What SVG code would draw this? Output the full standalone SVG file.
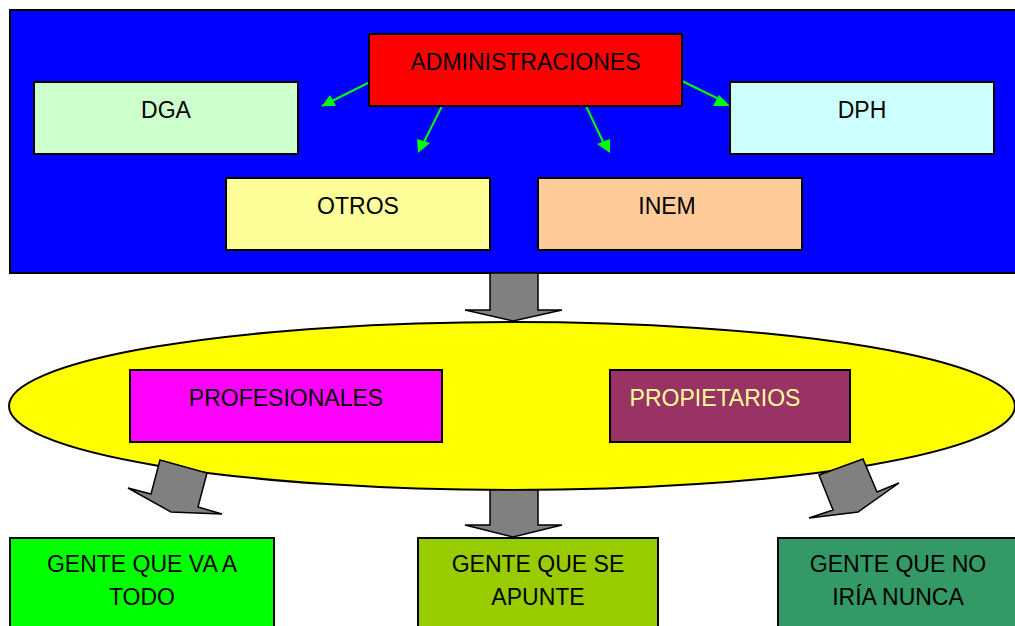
<svg xmlns="http://www.w3.org/2000/svg" width="1015" height="626" viewBox="0 0 1015 626">
<defs>
<style>
.box{stroke:#000;stroke-width:2}
.t{font-family:"Liberation Sans",Arial,sans-serif;font-size:23px;fill:#000;text-anchor:middle}
.big{fill:#808080;stroke:#000;stroke-width:1.5;stroke-linejoin:miter}
.g{stroke:#00FF00;stroke-width:2;fill:none;marker-end:url(#ah)}
</style>
<marker id="ah" viewBox="0 0 10 10" refX="9" refY="5" markerWidth="8" markerHeight="8" markerUnits="userSpaceOnUse" orient="auto">
<path d="M0,0 L10,5 L0,10 z" fill="#00FF00"/>
</marker>
</defs>
<rect width="1015" height="626" fill="#fff"/>
<g id="frame">
<rect x="10" y="10" width="1015" height="263" fill="#0000FF" stroke="#000" stroke-width="2"/>
</g>
<g id="ellipse">
<ellipse cx="512" cy="406" rx="503" ry="84" fill="#FFFF00" stroke="#000" stroke-width="2"/>
</g>
<g id="connectors">
<line class="g" x1="370" y1="82" x2="322" y2="106" style="marker-end:none"/>
<path d="M322,106 L330,95 L336,106 z" fill="#00FF00"/>
<line class="g" x1="442" y1="106" x2="420" y2="150" style="marker-end:none"/>
<path d="M418,153 L417,139 L430,143 z" fill="#00FF00"/>
<line class="g" x1="586" y1="106" x2="606" y2="148" style="marker-end:none"/>
<path d="M610,153 L597,144 L610,139 z" fill="#00FF00"/>
<line class="g" x1="682" y1="81" x2="725" y2="102" style="marker-end:none"/>
<path d="M730,106 L713,106 L719,95 z" fill="#00FF00"/>
<path class="big" d="M490,273 L538,273 L538,310 L562,310 L513,321 L465,310 L490,310 z"/>
<path class="big" d="M490,490 L538,490 L538,525 L562,525 L513,537 L465,525 L490,525 z"/>
<path class="big" d="M160,460 L207,473 L198,507 L222,514 L171,512 L128,488 L151,494 z"/>
<path class="big" d="M819,475 L863,459 L877,492 L899,483 L858,512 L809,518 L833,510 z"/>
</g>
<g id="administraciones">
<rect class="box" x="369" y="34" width="313" height="72" fill="#FF0000"/>
<text class="t" x="525.5" y="70">ADMINISTRACIONES</text>
</g>
<g id="dga">
<rect class="box" x="34" y="82" width="264" height="72" fill="#CCFFCC"/>
<text class="t" x="166" y="118">DGA</text>
</g>
<g id="dph">
<rect class="box" x="730" y="82" width="264" height="72" fill="#CCFFFF"/>
<text class="t" x="862" y="118">DPH</text>
</g>
<g id="otros">
<rect class="box" x="226" y="178" width="264" height="72" fill="#FFFF99"/>
<text class="t" x="358" y="214">OTROS</text>
</g>
<g id="inem">
<rect class="box" x="538" y="178" width="264" height="72" fill="#FFCC99"/>
<text class="t" x="667" y="214">INEM</text>
</g>
<g id="profesionales">
<rect class="box" x="130" y="370" width="312" height="72" fill="#FF00FF"/>
<text class="t" x="286" y="406">PROFESIONALES</text>
</g>
<g id="propietarios">
<rect class="box" x="610" y="370" width="240" height="72" fill="#993366"/>
<text class="t" x="715" y="406" style="fill:#FFFF99">PROPIETARIOS</text>
</g>
<g id="gente-todo">
<rect class="box" x="10" y="538" width="264" height="100" fill="#00FF00"/>
<text class="t" x="142" y="572">GENTE QUE VA A</text>
<text class="t" x="142" y="605">TODO</text>
</g>
<g id="gente-apunte">
<rect class="box" x="418" y="538" width="240" height="100" fill="#99CC00"/>
<text class="t" x="538" y="572">GENTE QUE SE</text>
<text class="t" x="538" y="605">APUNTE</text>
</g>
<g id="gente-nunca">
<rect class="box" x="778" y="538" width="264" height="100" fill="#339966"/>
<text class="t" x="898" y="572">GENTE QUE NO</text>
<text class="t" x="898" y="605">IRÍA NUNCA</text>
</g>
</svg>
